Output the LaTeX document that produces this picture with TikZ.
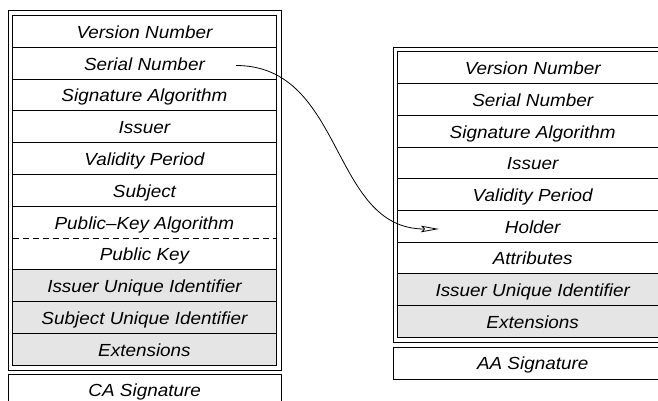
\documentclass[tikz,border=0pt]{standalone}
\usepackage{fontspec}
\usepackage{graphicx}
\usetikzlibrary{arrows.meta}
\newfontfamily\hvfont[Ligatures=TeX]{Liberation Sans}
\definecolor{fieldgray}{RGB}{229,229,229}
\newcommand{\fieldtext}[1]{\scalebox{1.08}[1]{#1}}
\tikzset{
  field/.style={minimum width=263.5pt, minimum height=31.8pt, inner sep=0pt,
    text height=13.4pt, text depth=0pt,
    font=\hvfont\itshape\fontsize{17.5}{20}\selectfont, anchor=north west},
  rfield/.style={field, minimum width=270pt, minimum height=31.7pt},
  sepline/.style={line width=0.9pt},
  boxline/.style={line width=1pt},
  link/.style={line width=0.8pt, -{Stealth[open, length=18pt, width=6.5pt, inset=3pt]}}
}
\begin{document}
\begin{tikzpicture}[x=1pt,y=-1pt]
\useasboundingbox (0,0) rectangle (658,401);
\clip (0,0) rectangle (658,401);
% ---------- left certificate ----------
\fill[fieldgray] (12.5,269.9) rectangle (276,365.3);
\foreach \t [count=\i from 0] in {Version Number, Serial Number, Signature Algorithm, Issuer, Validity Period, Subject, Public\textendash Key Algorithm, Public Key, Issuer Unique Identifier, Subject Unique Identifier, Extensions}
  \node[field] (L\i) at (12.5,15.5+\i*31.8) {\fieldtext{\t}};
\foreach \k in {1,2,3,4,5,6,8,9,10}
  \draw[sepline] (12.5,15.5+\k*31.8) -- (276,15.5+\k*31.8);
\draw[sepline, dash pattern=on 6pt off 4pt] (12.5,15.5+7*31.8) -- (276,15.5+7*31.8);
\draw[boxline] (12.5,15.5) rectangle (276,365.3);
\draw[boxline] (8,11) rectangle (281,370);
\node[field, minimum width=273pt, minimum height=32pt] (LS) at (8,374) {\fieldtext{CA Signature}};
\draw[boxline] (8,410) -- (8,374) -- (281,374) -- (281,410);
% ---------- right certificate ----------
\fill[fieldgray] (397.5,273.9) rectangle (667.5,337.3);
\foreach \t [count=\i from 0] in {Version Number, Serial Number, Signature Algorithm, Issuer, Validity Period, Holder, Attributes, Issuer Unique Identifier, Extensions}
  \node[rfield] (R\i) at (397.5,52+\i*31.7) {\fieldtext{\t}};
\foreach \k in {1,...,8}
  \draw[sepline] (397.5,52+\k*31.7) -- (667.5,52+\k*31.7);
\draw[boxline] (397.5,52) rectangle (667.5,337.3);
\draw[boxline] (393.5,47.3) rectangle (671.5,342.3);
\node[field, minimum width=278pt, minimum height=32pt] (RS) at (393.5,347) {\fieldtext{AA Signature}};
\draw[boxline] (393.5,347) rectangle (671.5,379);
% ---------- link ----------
\coordinate (cs) at (236,65.5);
\coordinate (ce) at (439,229);
\draw[link] (cs) .. controls (345,65.5) and (330,229) .. (ce);
\end{tikzpicture}
\end{document}
